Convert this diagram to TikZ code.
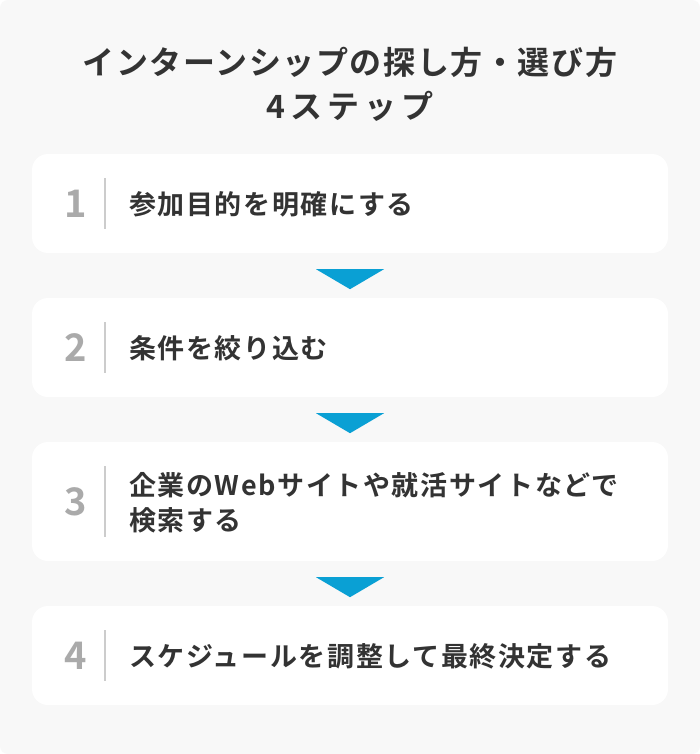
\documentclass[tikz,border=0pt]{standalone}
\usepackage{fontspec}
\usetikzlibrary{calc}
\setmainfont{Noto Sans CJK JP}[BoldFont={Noto Sans CJK JP Bold}]
\newfontfamily\stepfont{Noto Sans CJK JP Bold}[LetterSpace=6]
\newfontfamily\titlefont{Noto Sans CJK JP Bold}[LetterSpace=5]
\newfontfamily\titlewide{Noto Sans CJK JP Bold}[LetterSpace=15]
\definecolor{panelgray}{HTML}{F8F8F8}
\definecolor{textdark}{HTML}{333333}
\definecolor{numgray}{HTML}{AAAAAA}
\definecolor{rulegray}{HTML}{CCCCCC}
\definecolor{arrowblue}{HTML}{0AA0D4}
\begin{document}
\begin{tikzpicture}[x=1pt,y=1pt,
  stepbox/.style={fill=white, rounded corners=16pt, minimum width=636pt, inner sep=0pt},
  stepnum/.style={font=\stepfont\fontsize{38}{38}\selectfont, text=numgray, inner sep=0pt},
  steptext/.style={font=\stepfont\fontsize{27}{35}\selectfont, text=textdark, inner sep=0pt, anchor=west, align=left},
  steprule/.style={draw=rulegray, line width=1.5pt},
  arrowhead/.style={fill=arrowblue}]
        \fill[white] (0,0) rectangle (700,-754);
        \fill[panelgray, rounded corners=8pt] (0,0) rectangle (700,-754);
        \useasboundingbox (0,0) rectangle (700,-754);
        \node[font=\titlefont\fontsize{32}{44}\selectfont, text=textdark, align=center, inner sep=0pt] (title) at (350,-84) {インターンシップの探し方・選び方\\{\titlewide 4ステップ}};
        \node[stepbox, minimum height=99pt] (s1) at (350,-203.5) {};
        \node[stepbox, minimum height=99pt] (s2) at (350,-347.5) {};
        \node[stepbox, minimum height=119pt] (s3) at (350,-501.5) {};
        \node[stepbox, minimum height=99pt] (s4) at (350,-655.5) {};
        \node[stepnum] (n1) at ($(s1.west)+(44,0)$) {1};
        \node[stepnum] (n2) at ($(s2.west)+(44,0)$) {2};
        \node[stepnum] (n3) at ($(s3.west)+(44,0)$) {3};
        \node[stepnum] (n4) at ($(s4.west)+(44,0)$) {4};
        \draw[steprule] ($(s1.west)+(73,25.5)$) -- ($(s1.west)+(73,-25.5)$);
        \draw[steprule] ($(s2.west)+(73,25.5)$) -- ($(s2.west)+(73,-25.5)$);
        \draw[steprule] ($(s3.west)+(73,35.5)$) -- ($(s3.west)+(73,-35.5)$);
        \draw[steprule] ($(s4.west)+(73,25.5)$) -- ($(s4.west)+(73,-25.5)$);
        \node[steptext] (t1) at ($(s1.west)+(97,-1)$) {参加目的を明確にする};
        \node[steptext] (t2) at ($(s2.west)+(97,-1)$) {条件を絞り込む};
        \node[steptext] (t3) at ($(s3.west)+(97,-1)$) {企業のWebサイトや就活サイトなどで\\検索する};
        \node[steptext] (t4) at ($(s4.west)+(97,-1)$) {スケジュールを調整して最終決定する};
        \fill[arrowhead] ($(s1.south)+(-34,-16)$) -- ++(68,0) -- ++(-34,-20) -- cycle;
        \fill[arrowhead] ($(s2.south)+(-34,-16)$) -- ++(68,0) -- ++(-34,-20) -- cycle;
        \fill[arrowhead] ($(s3.south)+(-34,-16)$) -- ++(68,0) -- ++(-34,-20) -- cycle;
        \end{tikzpicture}
\end{document}
